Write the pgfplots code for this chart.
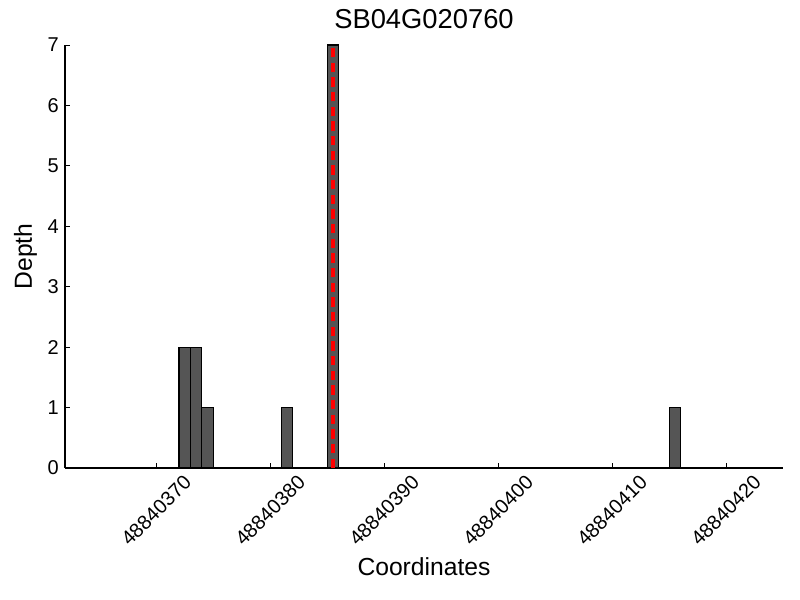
\documentclass[border=0pt]{standalone}
\usepackage{pgfplots}
\pgfplotsset{compat=1.18}
\usepackage{fontspec}
\setmainfont{Liberation Sans}
\definecolor{bargray}{HTML}{555555}
\begin{document}
\begin{tikzpicture}[x=1pt,y=1pt]
\begin{axis}[
  scale only axis,
  width=538.5pt, height=317.25pt,
  xmin=362, xmax=425, ymin=0, ymax=7,
  axis x line*=bottom, axis y line*=left,
  axis line style={black, line width=0.8pt},
  tick align=inside,
  major tick length=4pt,
  tick style={black, line width=0.6pt},
  xtick={370,380,390,400,410,420},
  xticklabels={48840370,48840380,48840390,48840400,48840410,48840420},
  xticklabel style={yshift=-32pt, rotate=45, anchor=center, font=\fontsize{15}{17}\selectfont, inner sep=0pt},
  ytick={0,1,2,3,4,5,6,7},
  yticklabel style={font=\fontsize{15}{17}\selectfont, inner sep=0pt, xshift=-4.5pt},
  /pgf/number format/assume math mode=true,
  every axis x label/.style={at={(axis description cs:0.5,-0.2553)}, anchor=base, font=\fontsize{18.5}{21}\selectfont},
  every axis y label/.style={at={(axis description cs:-0.046,0.5)}, rotate=90, anchor=base, font=\fontsize{18.5}{21}\selectfont},
  xlabel={Coordinates}, ylabel={Depth},
  title={SB04G020760},
  title style={at={(axis description cs:0.5,1.0189)}, anchor=base, font=\fontsize{20.5}{23}\selectfont},
  clip=false,
]
\addplot[ybar, bar width=1, fill=bargray, draw=black, line width=0.8pt]
  coordinates {(372.5,2) (373.5,2) (374.5,1) (381.5,1) (385.5,7) (415.5,1)};
\addplot[color={rgb,1:red,1;green,0;blue,0}, line width=3pt, dash pattern=on 7pt off 4pt] coordinates {(385.5,0) (385.5,7)};
\end{axis}
\path (current axis.south west) ++(-48.75pt,-99pt) coordinate (bbsw);
\path (current axis.north east) ++(12.75pt,33.75pt) coordinate (bbne);
\useasboundingbox (bbsw) rectangle (bbne);
\end{tikzpicture}
\end{document}
